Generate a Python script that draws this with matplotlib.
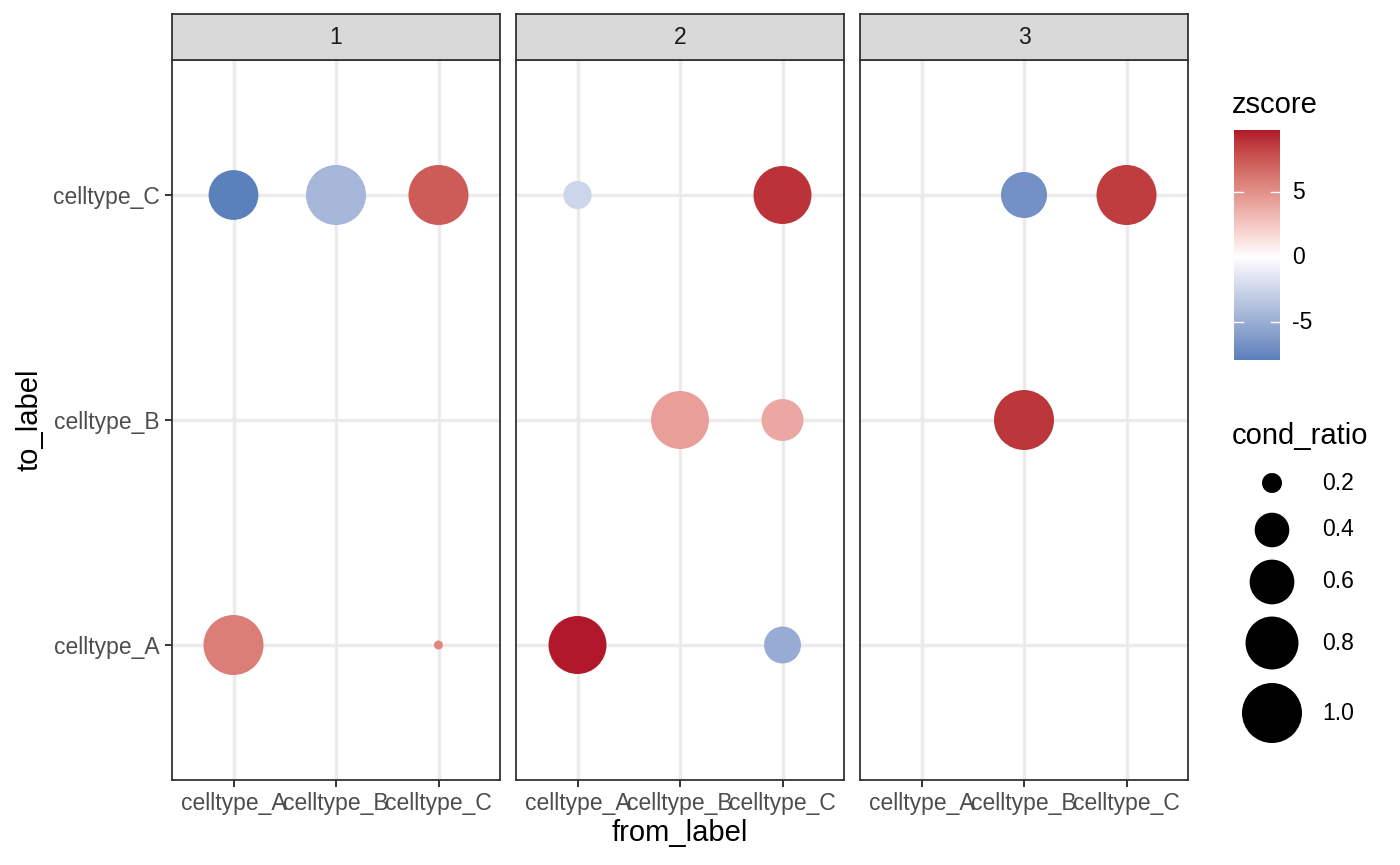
import numpy as np
import matplotlib
matplotlib.use("Agg")
import matplotlib.pyplot as plt
import matplotlib.colors as mcolors

plt.rcParams['font.family'] = ['Liberation Sans', 'DejaVu Sans']

# ---------------- data ----------------
categories = ["celltype_A", "celltype_B", "celltype_C"]
facets = ["1", "2", "3"]

facet_id   = [1, 1, 1, 1, 1,
              2, 2, 2, 2, 2, 2,
              3, 3, 3]
from_label = ["celltype_A", "celltype_B", "celltype_C", "celltype_A", "celltype_C",
              "celltype_A", "celltype_C", "celltype_B", "celltype_C", "celltype_A", "celltype_C",
              "celltype_B", "celltype_C", "celltype_B"]
to_label   = ["celltype_C", "celltype_C", "celltype_C", "celltype_A", "celltype_A",
              "celltype_C", "celltype_C", "celltype_B", "celltype_B", "celltype_A", "celltype_A",
              "celltype_C", "celltype_C", "celltype_B"]
zscore     = [-7.9, -4.4, 7.4, 5.9, 5.5,
              -2.5, 9.0, 4.4, 4.0, 9.8, -5.1,
              -6.8, 8.7, 8.9]
cond_ratio = [0.72, 1.0, 1.0, 1.0, 0.12,
              0.30, 0.94, 0.94, 0.54, 0.94, 0.44,
              0.63, 1.0, 1.0]

zscore_breaks = [-5, 0, 5]
size_breaks = [0.2, 0.4, 0.6, 0.8, 1.0]
size_labels = ["0.2", "0.4", "0.6", "0.8", "1.0"]

# ---------------- colour scale (Lab interpolation, like ggplot gradient2) ----------------
_M = np.array([[0.4124564, 0.3575761, 0.1804375],
               [0.2126729, 0.7151522, 0.0721750],
               [0.0193339, 0.1191920, 0.9503041]])
_W = np.array([0.95047, 1.0, 1.08883])

def to_lab(c):
    rgb = np.array(mcolors.to_rgb(c))
    lin = np.where(rgb <= 0.04045, rgb / 12.92, ((rgb + 0.055) / 1.055) ** 2.4)
    xyz = _M @ lin / _W
    f = np.where(xyz > 0.008856, np.cbrt(xyz), 7.787 * xyz + 16 / 116)
    return np.array([116 * f[1] - 16, 500 * (f[0] - f[1]), 200 * (f[1] - f[2])])

def from_lab(lab):
    L, a, b = lab
    fy = (L + 16) / 116
    fx = fy + a / 500
    fz = fy - b / 200
    f = np.array([fx, fy, fz])
    xyz = np.where(f ** 3 > 0.008856, f ** 3, (f - 16 / 116) / 7.787) * _W
    lin = np.linalg.solve(_M, xyz)
    lin = np.clip(lin, 0, 1)
    rgb = np.where(lin <= 0.0031308, 12.92 * lin, 1.055 * lin ** (1 / 2.4) - 0.055)
    return np.clip(rgb, 0, 1)

low, mid, high = to_lab("#2166AC"), to_lab("#FFFFFF"), to_lab("#B2182B")
cols = []
for t in np.linspace(0, 1, 512):
    if t < 0.5:
        u = t * 2
        lab = low + (mid - low) * u
    else:
        u = (t - 0.5) * 2
        lab = mid + (high - mid) * u
    cols.append(from_lab(lab))
cmap = mcolors.ListedColormap(cols)
zmax_abs = max(abs(v) for v in zscore)
norm = mcolors.Normalize(-zmax_abs, zmax_abs)

DPI = 100
def size_to_s(v):
    v = np.asarray(v, dtype=float)
    d_px = 60 * np.sqrt(np.clip((v - 0.1) / 0.9, 0.002, None))
    return (d_px * 72 / DPI) ** 2

# ---------------- figure ----------------
W, H = 1400, 865
fig = plt.figure(figsize=(W / DPI, H / DPI), dpi=DPI)

def fx(px): return px / W
def fy(py): return 1 - py / H

panel_left = [172, 516, 860]
panel_w = 328
top, bottom = 60, 780
strip_top = 14

tick_fs = 16.5
title_fs = 21
dark = "#333333"

for i, f in enumerate(facets):
    ax = fig.add_axes([fx(panel_left[i]), fy(bottom), panel_w / W, (bottom - top) / H])
    ax.set_xlim(0.4, 3.6)
    ax.set_ylim(0.4, 3.6)
    ax.set_xticks([1, 2, 3])
    ax.set_xticklabels(categories)
    ax.set_yticks([1, 2, 3])
    ax.grid(True, color="#EBEBEB", linewidth=2.5, zorder=0)
    ax.set_axisbelow(True)
    for sp in ax.spines.values():
        sp.set_color(dark)
        sp.set_linewidth(1.3)
    ax.tick_params(axis='both', length=5.2, width=1.4, color=dark, labelcolor="#4D4D4D",
                   labelsize=tick_fs, pad=3.5)
    if i == 0:
        ax.set_yticklabels(categories)
    else:
        ax.tick_params(axis='y', left=False, labelleft=False)
    idx = [k for k in range(len(facet_id)) if facet_id[k] == int(f)]
    xs = [categories.index(from_label[k]) + 1 for k in idx]
    ys = [categories.index(to_label[k]) + 1 for k in idx]
    cs = [zscore[k] for k in idx]
    ss = size_to_s([cond_ratio[k] for k in idx])
    ax.scatter(xs, ys, s=ss, c=cs, cmap=cmap, norm=norm, linewidths=0, zorder=3)

    # strip
    sax = fig.add_axes([fx(panel_left[i]), fy(top), panel_w / W, (top - strip_top) / H])
    sax.set_xticks([]); sax.set_yticks([])
    sax.set_facecolor("#D9D9D9")
    for sp in sax.spines.values():
        sp.set_color(dark)
        sp.set_linewidth(1.3)
    sax.text(0.5, 0.5, f, ha='center', va='center', fontsize=tick_fs, color="#1A1A1A",
             transform=sax.transAxes)

# axis titles
fig.text(fx(680), fy(833), "from_label", ha='center', va='center', fontsize=title_fs, color='black')
fig.text(fx(30), fy(420), "to_label", ha='center', va='center', fontsize=title_fs,
         color='black', rotation=90)

# ---------------- colour bar legend ----------------
zmin, zmax = min(zscore), max(zscore)
cb_top, cb_bot, cb_l, cb_r = 130, 360, 1234, 1280
cax = fig.add_axes([fx(cb_l), fy(cb_bot), (cb_r - cb_l) / W, (cb_bot - cb_top) / H])
grad = np.linspace(zmin, zmax, 300).reshape(-1, 1)
cax.imshow(grad, cmap=cmap, norm=norm, aspect='auto', origin='lower',
           extent=[0, 1, zmin, zmax])
cax.set_xlim(0, 1); cax.set_ylim(zmin, zmax)
cax.set_xticks([]); cax.set_yticks([])
for sp in cax.spines.values():
    sp.set_visible(False)
for b in zscore_breaks:
    cax.plot([0, 0.2], [b, b], color='white', lw=1.0)
    cax.plot([0.8, 1], [b, b], color='white', lw=1.0)
    ypx = cb_bot - (b - zmin) / (zmax - zmin) * (cb_bot - cb_top)
    fig.text(fx(1292), fy(ypx), str(b), ha='left', va='center', fontsize=tick_fs, color='black')
fig.text(fx(1232), fy(105), "zscore", ha='left', va='center', fontsize=title_fs, color='black')

# ---------------- size legend ----------------
lax = fig.add_axes([0, 0, 1, 1], facecolor='none')
lax.set_xlim(0, W); lax.set_ylim(H, 0)
lax.axis('off')
fig.text(fx(1232), fy(436), "cond_ratio", ha='left', va='center', fontsize=title_fs, color='black')
key_y = [483, 530, 582, 643, 713]
lax.scatter([1272] * len(size_breaks), key_y, s=size_to_s(size_breaks), c='black', linewidths=0)
for yy, lab in zip(key_y, size_labels):
    lax.text(1322, yy, lab, ha='left', va='center', fontsize=tick_fs, color='black')

fig.savefig("out.png", dpi=DPI)
